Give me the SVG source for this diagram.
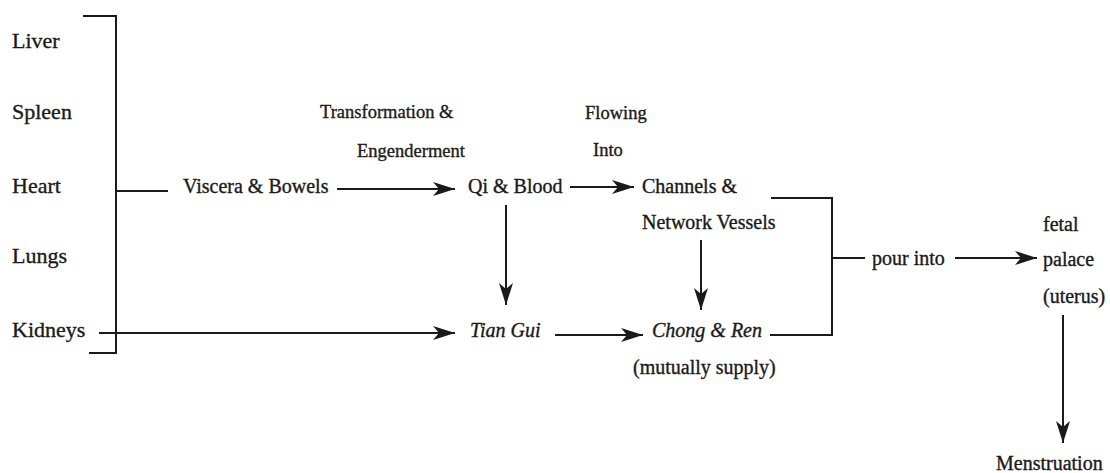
<svg xmlns="http://www.w3.org/2000/svg" width="1110" height="473" viewBox="0 0 1110 473">
<style>
text{font-family:"Liberation Serif","Times New Roman",serif;fill:#1a1a1a;stroke:#1a1a1a;stroke-width:0.35;font-size:20px}
.big{font-size:22px}
.sm{font-size:18.5px}
.it{font-style:italic}
.ln{stroke:#1a1a1a;stroke-width:2;fill:none}
</style>
<defs>
<marker id="ah" markerUnits="userSpaceOnUse" markerWidth="24" markerHeight="16" refX="22" refY="7" orient="auto">
<path d="M0,0 L22,7 L0,14 L6,7 Z" fill="#1a1a1a"/>
</marker>
</defs>
<rect width="1110" height="473" fill="#fff"/>
<g id="organs">
<text class="big" x="12" y="48">Liver</text>
<text class="big" x="12" y="119">Spleen</text>
<text class="big" x="12" y="193">Heart</text>
<text class="big" x="12" y="263">Lungs</text>
<text class="big" x="12" y="337">Kidneys</text>
</g>
<g id="viscera"><text x="183" y="193">Viscera &amp; Bowels</text></g>
<g id="qiblood"><text x="468" y="193">Qi &amp; Blood</text></g>
<g id="channels"><text x="642" y="193">Channels &amp;</text><text x="642" y="229">Network Vessels</text></g>
<g id="tiangui"><text class="it" x="470" y="337">Tian Gui</text></g>
<g id="chongren"><text class="it" x="652" y="337">Chong &amp; Ren</text><text x="633" y="374">(mutually supply)</text></g>
<g id="uterus"><text x="1043" y="231">fetal</text><text x="1043" y="266">palace</text><text x="1043" y="303">(uterus)</text></g>
<g id="menstruation"><text x="996" y="470">Menstruation</text></g>
<g id="labels">
<text class="sm" x="320" y="118">Transformation &amp;</text>
<text class="sm" x="357" y="157">Engenderment</text>
<text class="sm" x="585" y="119">Flowing</text>
<text class="sm" x="593" y="156">Into</text>
<text x="872" y="265">pour into</text>
</g>
<g id="connectors">
<path class="ln" d="M83,16 H116 V353 H89"/>
<path class="ln" d="M116,191 H168"/>
<path class="ln" d="M99,333 H455" marker-end="url(#ah)"/>
<path class="ln" d="M337,189 H455" marker-end="url(#ah)"/>
<path class="ln" d="M570,187 H634" marker-end="url(#ah)"/>
<path class="ln" d="M506,205 V305" marker-end="url(#ah)"/>
<path class="ln" d="M701,240 V310" marker-end="url(#ah)"/>
<path class="ln" d="M555,335 H643" marker-end="url(#ah)"/>
<path class="ln" d="M771,198 H832 V335 H770"/>
<path class="ln" d="M832,258 H865"/>
<path class="ln" d="M955,258 H1037" marker-end="url(#ah)"/>
<path class="ln" d="M1063,315 V443" marker-end="url(#ah)"/>
</g>
</svg>
